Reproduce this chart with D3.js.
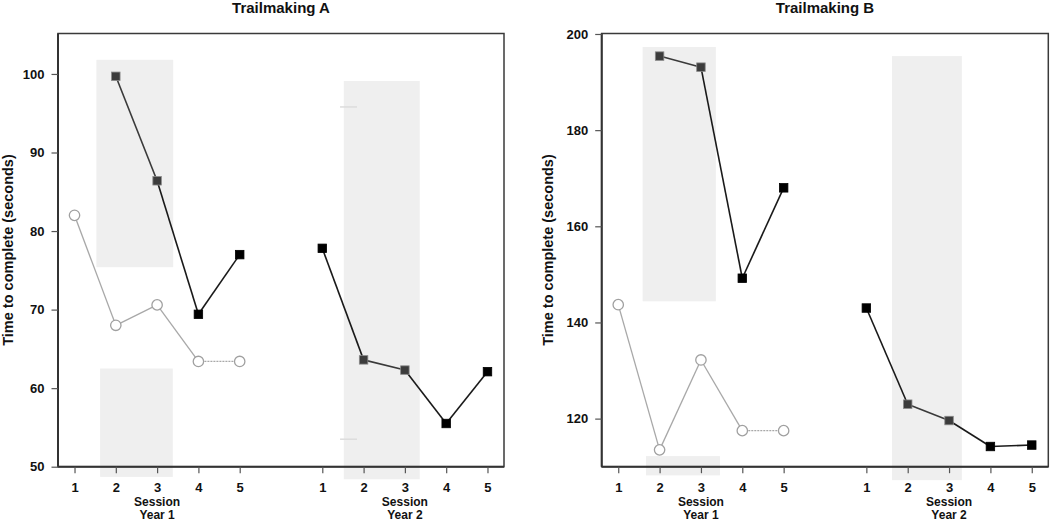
<!DOCTYPE html>
<html>
<head>
<meta charset="utf-8">
<script src="https://cdn.jsdelivr.net/npm/d3@7"></script>
<style>
  body { margin: 0; background: #fff; }
  svg { display: block; font-family: "Liberation Sans", Arial, sans-serif; font-weight: bold; }
</style>
</head>
<body>
<svg id="chart" width="1050" height="520"></svg>
<script>
// ---- data ----
const sessionLabels = ["1", "2", "3", "4", "5"];
const year1Index = [0, 1, 2, 3, 4];
const year2Index = [6, 7, 8, 9, 10];
const yearLabels = ["Year 1", "Year 2"];
const interventionSessions = [false, true, true, false, false];

// Trailmaking A
const tmA_controlY1 = [82.0, 68.0, 70.6, 63.4, 63.4];
const tmA_patientY1 = [null, 99.7, 86.4, 69.4, 77.0];
const tmA_patientY2 = [77.8, 63.6, 62.3, 55.5, 62.1];
const tmA_ticks = [50, 60, 70, 80, 90, 100];
// shaded ranges: [x0, x1, yLow, yHigh]
const tmA_bands = [[0.53, 2.39, 75.4, 101.8], [0.62, 2.38, 48.7, 62.5], [6.52, 8.36, 48.4, 99.1]];
const tmA_marks = [[6.43, 6.84, 95.8], [6.43, 6.84, 53.5]];

// Trailmaking B
const tmB_controlY1 = [143.7, 113.5, 132.2, 117.5, 117.5];
const tmB_patientY1 = [null, 195.4, 193.1, 149.2, 168.0];
const tmB_patientY2 = [143.0, 123.0, 119.6, 114.2, 114.5];
const tmB_ticks = [120, 140, 160, 180, 200];
const tmB_bands = [[0.59, 2.36, 144.4, 197.3], [0.67, 2.46, 108.2, 112.2], [6.62, 8.31, 107.2, 195.4]];
const tmB_marks = [];

const svg = d3.select("#chart");

function panel(opt) {
  const g = svg.append("g");
  const x = d3.scaleLinear().domain([-0.4, 10.4]).range([opt.left, opt.right]);
  const y = d3.scaleLinear().domain(opt.yDomain).range([466.7, 33.5]);
  const cx = (opt.left + opt.right) / 2;

  // title
  g.append("text").attr("x", cx).attr("y", 12.5).attr("text-anchor", "middle")
    .attr("font-size", 15).attr("fill", "#111").text(opt.title);

  // bands
  g.selectAll("rect.band").data(opt.bands).join("rect").attr("class", "band")
    .attr("x", d => x(d[0])).attr("width", d => x(d[1]) - x(d[0]))
    .attr("y", d => y(d[3])).attr("height", d => y(d[2]) - y(d[3]))
    .attr("fill", "#efefef");
  g.selectAll("line.mark").data(opt.marks).join("line").attr("class", "mark")
    .attr("x1", d => x(d[0])).attr("x2", d => x(d[1]))
    .attr("y1", d => y(d[2])).attr("y2", d => y(d[2]))
    .attr("stroke", "#dcdcdc").attr("stroke-width", 1.5);

  // frame
  g.append("rect").attr("x", opt.left).attr("y", 33.5)
    .attr("width", opt.right - opt.left).attr("height", 466.7 - 33.5)
    .attr("fill", "none").attr("stroke", "#3a3a3a").attr("stroke-width", 1.5);
  g.append("line").attr("x1", opt.left).attr("x2", opt.left).attr("y1", 33.5).attr("y2", 466.7)
    .attr("stroke", "#333").attr("stroke-width", 2);
  g.append("line").attr("x1", opt.left).attr("x2", opt.right).attr("y1", 466.7).attr("y2", 466.7)
    .attr("stroke", "#333").attr("stroke-width", 2);

  // y axis
  const ya = g.append("g").attr("transform", `translate(${opt.left},0)`)
    .call(d3.axisLeft(y).tickValues(opt.ticks).tickSize(6.5).tickPadding(7).tickFormat(d3.format("d")));
  ya.select(".domain").remove();
  ya.selectAll("line").attr("stroke", "#555").attr("stroke-width", 1.2);
  ya.selectAll("text").attr("font-size", 13).attr("fill", "#111")
    .attr("font-family", "Liberation Sans, Arial, sans-serif").attr("font-weight", "bold");

  // x axis
  const allIdx = year1Index.concat(year2Index);
  const xa = g.append("g").attr("transform", "translate(0,466.7)")
    .call(d3.axisBottom(x).tickValues(allIdx).tickSize(6.5).tickPadding(10)
      .tickFormat(d => sessionLabels[d < 5 ? d : d - 6]));
  xa.select(".domain").remove();
  xa.selectAll("line").attr("stroke", "#555").attr("stroke-width", 1.2);
  xa.selectAll("text").attr("font-size", 13).attr("fill", "#111")
    .attr("font-family", "Liberation Sans, Arial, sans-serif").attr("font-weight", "bold");

  [year1Index, year2Index].forEach((idx, k) => {
    g.append("text").attr("x", x(idx[2])).attr("y", 505.5).attr("text-anchor", "middle")
      .attr("font-size", 12).attr("fill", "#111").text("Session");
    g.append("text").attr("x", x(idx[2])).attr("y", 518.5).attr("text-anchor", "middle")
      .attr("font-size", 12).attr("fill", "#111").text(yearLabels[k]);
  });

  // y label
  g.append("text").attr("transform", `translate(${opt.labelX},250) rotate(-90)`)
    .attr("text-anchor", "middle").attr("font-size", 14.5).attr("fill", "#111")
    .text("Time to complete (seconds)");

  // control line (gray circles)
  const ctrl = opt.control.map((v, i) => ({ i: year1Index[i], v }));
  for (let k = 0; k < ctrl.length - 1; k++) {
    g.append("line").attr("x1", x(ctrl[k].i)).attr("y1", y(ctrl[k].v))
      .attr("x2", x(ctrl[k + 1].i)).attr("y2", y(ctrl[k + 1].v))
      .attr("stroke", "#a8a8a8").attr("stroke-width", 1.3)
      .attr("stroke-dasharray", k === ctrl.length - 2 ? "2,1" : null);
  }
  g.selectAll("circle.ctrl").data(ctrl).join("circle").attr("class", "ctrl")
    .attr("cx", d => x(d.i)).attr("cy", d => y(d.v)).attr("r", 5.2)
    .attr("fill", "#fff").attr("stroke", "#a0a0a0").attr("stroke-width", 1.3);

  // patient lines (squares)
  [[opt.p1, year1Index], [opt.p2, year2Index]].forEach(([vals, idx]) => {
    const pts = vals.map((v, i) => ({ i: idx[i], v, dark: interventionSessions[i] })).filter(d => d.v !== null);
    const line = d3.line().x(d => x(d.i)).y(d => y(d.v));
    for (let k = 0; k < pts.length - 1; k++) {
      const both = pts[k].dark && pts[k + 1].dark;
      g.append("path").attr("d", line([pts[k], pts[k + 1]]))
        .attr("fill", "none").attr("stroke", both ? "#3a3a3a" : "#1a1a1a").attr("stroke-width", 1.6);
    }
    const s = 8.5;
    g.selectAll(null).data(pts).join("rect")
      .attr("x", d => x(d.i) - s / 2).attr("y", d => y(d.v) - s / 2)
      .attr("width", s).attr("height", s)
      .attr("fill", d => d.dark ? "#3c3c3c" : "#000")
      .attr("stroke", d => d.dark ? "#8a8a8a" : "#000").attr("stroke-width", 0.8);
  });
}

panel({ title: "Trailmaking A", left: 58, right: 504, yDomain: [50, 105.15], ticks: tmA_ticks,
  bands: tmA_bands, marks: tmA_marks, control: tmA_controlY1, p1: tmA_patientY1, p2: tmA_patientY2, labelX: 12.5 });
panel({ title: "Trailmaking B", left: 601.7, right: 1048.3, yDomain: [110, 200.1], ticks: tmB_ticks,
  bands: tmB_bands, marks: tmB_marks, control: tmB_controlY1, p1: tmB_patientY1, p2: tmB_patientY2, labelX: 553 });
</script>
</body>
</html>
